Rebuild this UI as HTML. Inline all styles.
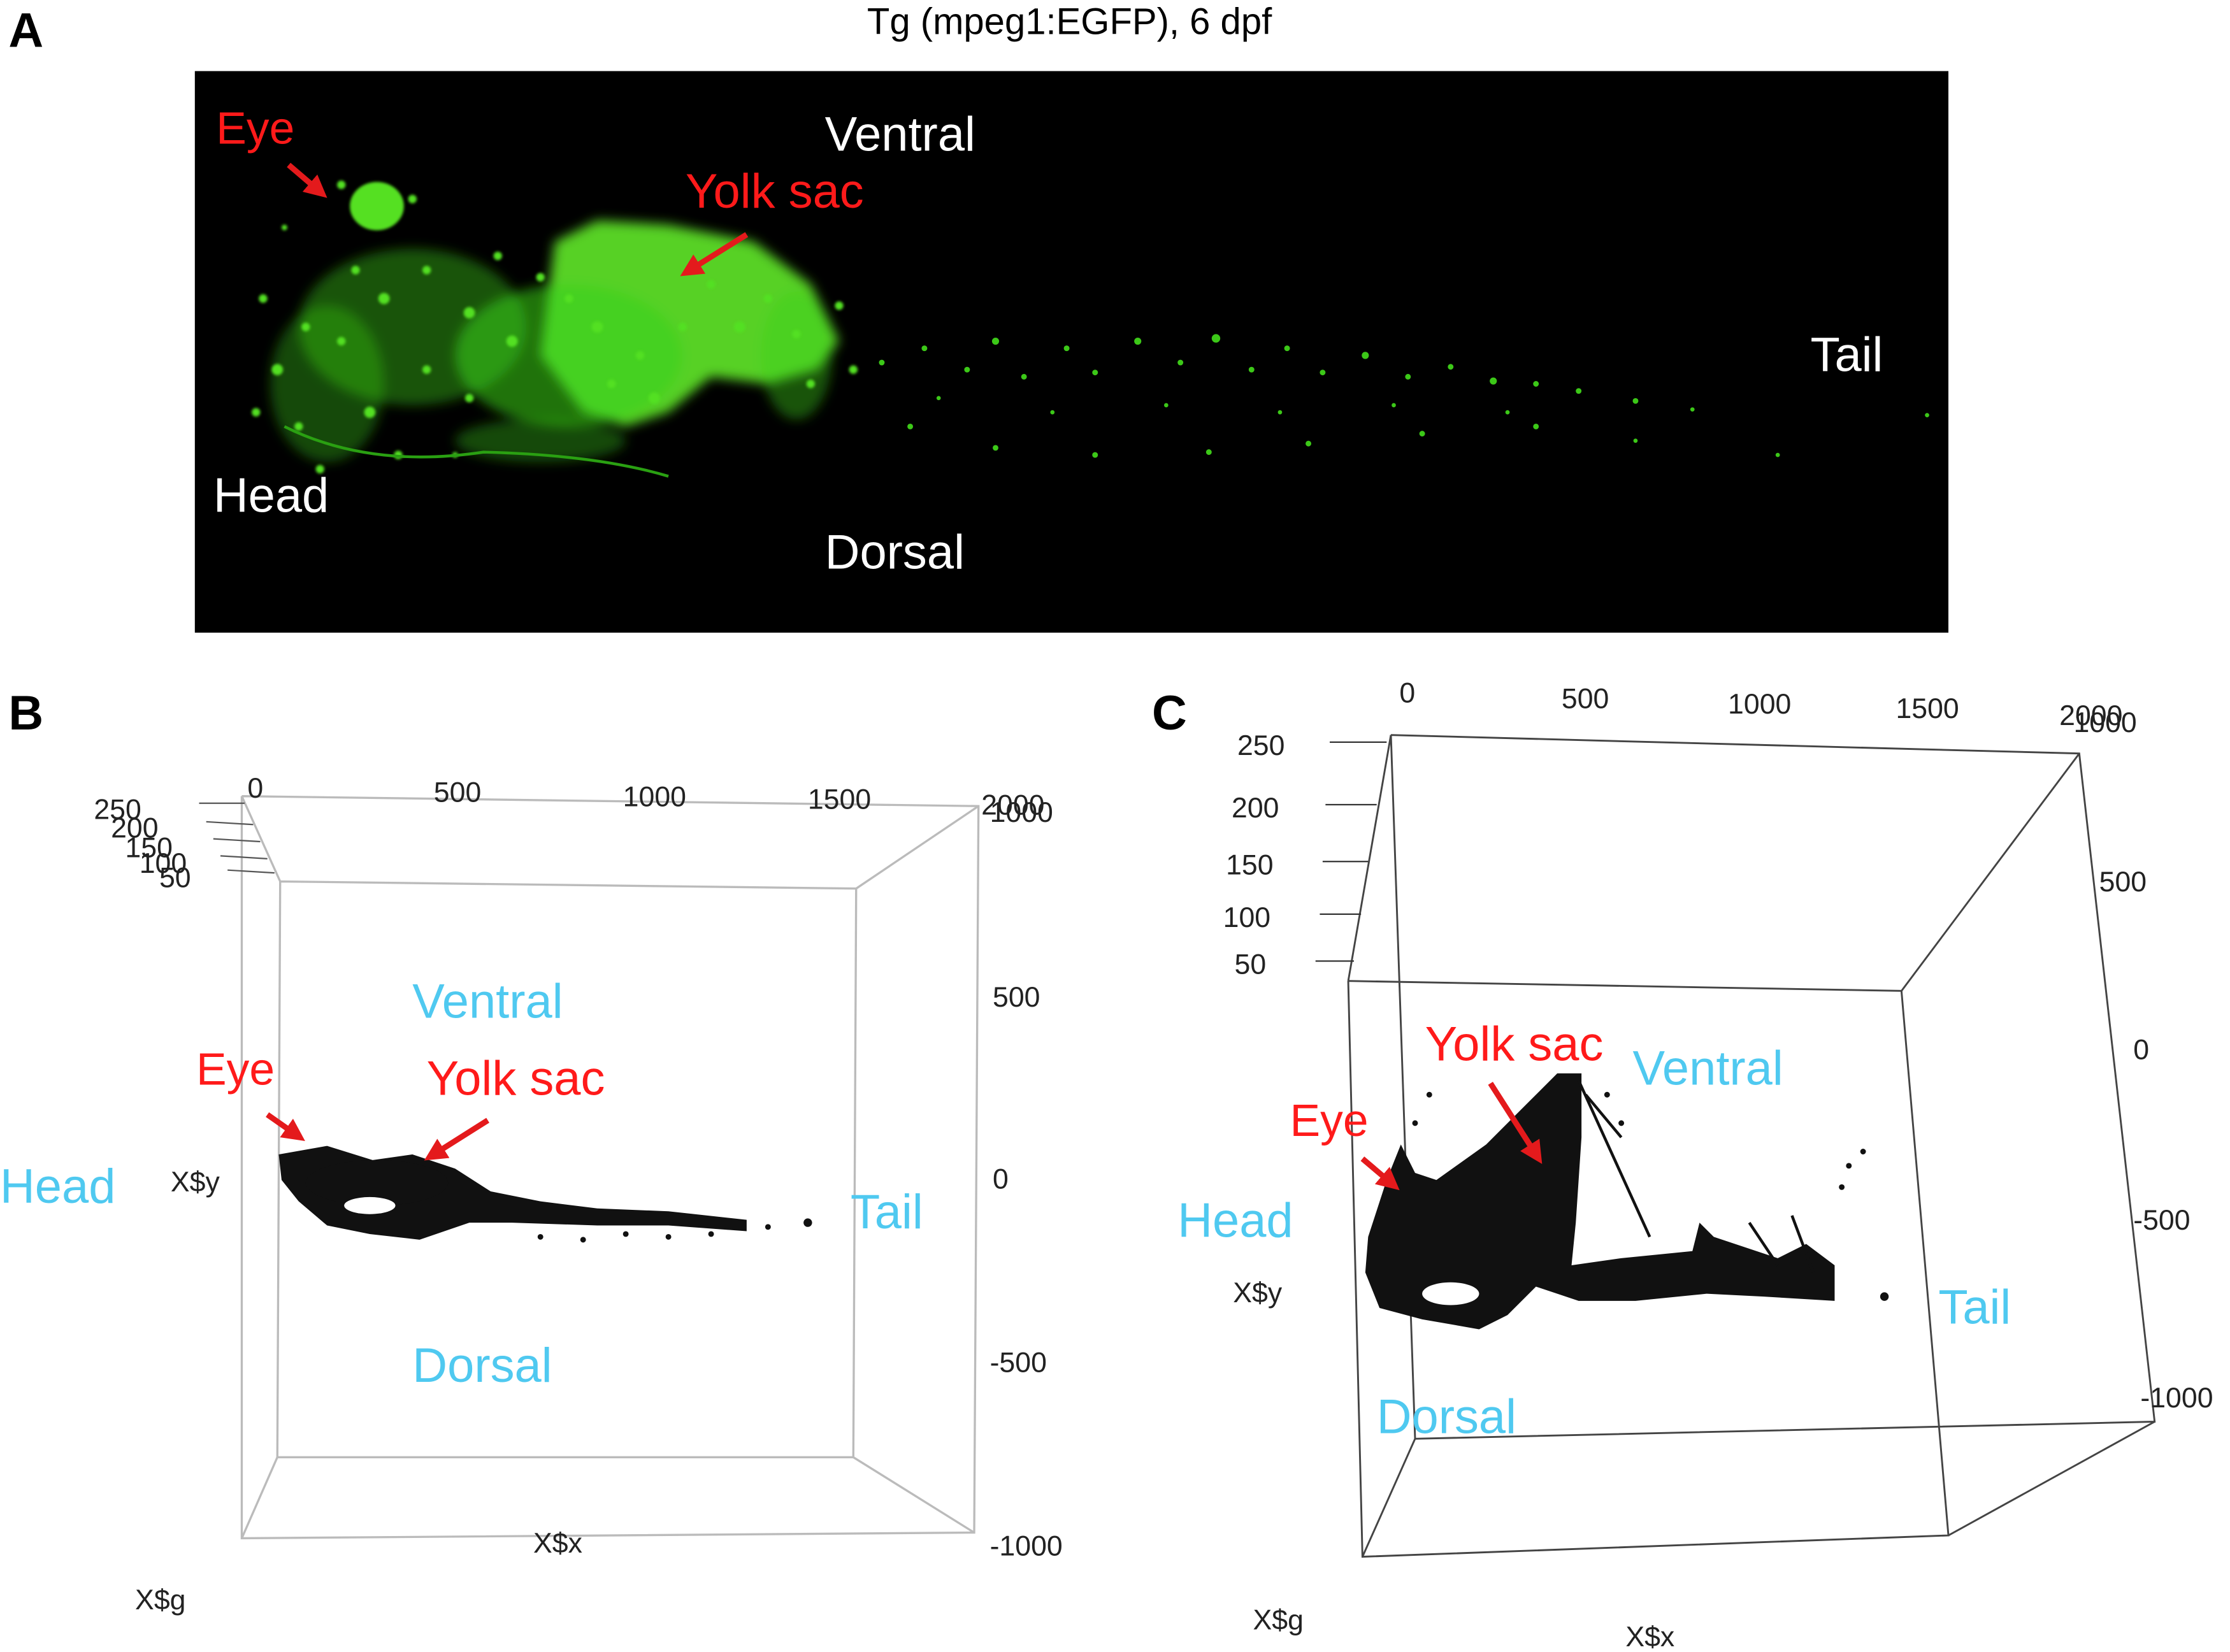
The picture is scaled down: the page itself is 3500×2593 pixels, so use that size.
<!DOCTYPE html>
<html><head><style>
html,body{margin:0;padding:0;background:#fff;}
svg{display:block;}
text{font-family:"Liberation Sans",sans-serif;}
</style></head><body>
<svg width="3500" height="2593" viewBox="0 0 1568 1162" preserveAspectRatio="none" xmlns="http://www.w3.org/2000/svg">
<defs>
<filter id="bl" x="-20%" y="-20%" width="140%" height="140%"><feGaussianBlur stdDeviation="4"/></filter>
<filter id="bl2"><feGaussianBlur stdDeviation="1"/></filter>
<marker id="ah" markerWidth="4" markerHeight="4" refX="2" refY="2" orient="auto"><path d="M0,0 L4,2 L0,4 z" fill="#e41a1c"/></marker>
</defs>
<rect width="1568" height="1162" fill="#fff"/>
<!-- Panel A -->
<text x="6" y="33" font-size="34" font-weight="bold">A</text>
<text x="752" y="24" font-size="26" text-anchor="middle">Tg (mpeg1:EGFP), 6 dpf</text>
<rect x="137" y="50" width="1233" height="395" fill="#000"/>
<g filter="url(#bl)" fill="#3bd11a">
<path d="M390,170 L420,155 L470,158 L530,170 L570,200 L590,240 L575,260 L540,270 L500,265 L470,290 L440,300 L410,290 L380,250 Z" fill="#5fe82a" opacity="0.9"/>
<ellipse cx="400" cy="250" rx="80" ry="50" opacity="0.55"/>
<ellipse cx="290" cy="230" rx="80" ry="55" opacity="0.4"/>
<ellipse cx="230" cy="270" rx="40" ry="55" opacity="0.35"/>
<ellipse cx="380" cy="310" rx="60" ry="15" opacity="0.35"/>
<ellipse cx="560" cy="250" rx="25" ry="45" opacity="0.4"/>
</g>
<ellipse cx="265" cy="145" rx="19" ry="17" fill="#55e020" filter="url(#bl2)"/>
<g fill="#52e020" filter="url(#bl2)">
<circle cx="185" cy="210" r="3"/><circle cx="195" cy="260" r="4"/><circle cx="210" cy="300" r="3"/><circle cx="225" cy="330" r="3"/><circle cx="240" cy="130" r="3"/><circle cx="290" cy="140" r="3"/><circle cx="200" cy="160" r="2"/><circle cx="180" cy="290" r="3"/><circle cx="590" cy="215" r="3"/><circle cx="600" cy="260" r="3"/>
<circle cx="250" cy="190" r="3"/><circle cx="270" cy="210" r="4"/><circle cx="300" cy="190" r="3"/><circle cx="330" cy="220" r="4"/><circle cx="350" cy="180" r="3"/><circle cx="240" cy="240" r="3"/><circle cx="260" cy="290" r="4"/><circle cx="300" cy="260" r="3"/><circle cx="330" cy="280" r="3"/><circle cx="360" cy="240" r="4"/><circle cx="420" cy="230" r="4"/><circle cx="450" cy="250" r="3"/><circle cx="480" cy="230" r="3"/><circle cx="520" cy="230" r="4"/><circle cx="540" cy="210" r="3"/><circle cx="560" cy="235" r="3"/><circle cx="460" cy="280" r="4"/><circle cx="400" cy="210" r="3"/><circle cx="500" cy="200" r="3"/><circle cx="430" cy="270" r="3"/><circle cx="280" cy="320" r="3"/><circle cx="320" cy="320" r="2"/><circle cx="215" cy="230" r="3"/><circle cx="570" cy="270" r="3"/><circle cx="380" cy="195" r="3"/>
</g>
<path d="M200,300 Q260,330 340,318 Q420,320 470,335" stroke="#2aa012" stroke-width="2" fill="none"/>
<g fill="#3cc818">
<circle cx="620" cy="255" r="2"/><circle cx="650" cy="245" r="2"/><circle cx="680" cy="260" r="2"/><circle cx="700" cy="240" r="2.5"/><circle cx="720" cy="265" r="2"/><circle cx="750" cy="245" r="2"/><circle cx="770" cy="262" r="2"/><circle cx="800" cy="240" r="2.5"/><circle cx="830" cy="255" r="2"/><circle cx="855" cy="238" r="3"/><circle cx="880" cy="260" r="2"/><circle cx="905" cy="245" r="2"/><circle cx="930" cy="262" r="2"/><circle cx="960" cy="250" r="2.5"/><circle cx="990" cy="265" r="2"/><circle cx="1020" cy="258" r="2"/><circle cx="1050" cy="268" r="2.5"/><circle cx="1080" cy="270" r="2"/><circle cx="1110" cy="275" r="2"/><circle cx="1150" cy="282" r="2"/><circle cx="1190" cy="288" r="1.5"/><circle cx="1355" cy="292" r="1.5"/>
<circle cx="640" cy="300" r="2"/><circle cx="700" cy="315" r="2"/><circle cx="770" cy="320" r="2"/><circle cx="850" cy="318" r="2"/><circle cx="920" cy="312" r="2"/><circle cx="1000" cy="305" r="2"/><circle cx="1080" cy="300" r="2"/><circle cx="1150" cy="310" r="1.5"/><circle cx="1250" cy="320" r="1.5"/>
<circle cx="660" cy="280" r="1.5"/><circle cx="740" cy="290" r="1.5"/><circle cx="820" cy="285" r="1.5"/><circle cx="900" cy="290" r="1.5"/><circle cx="980" cy="285" r="1.5"/><circle cx="1060" cy="290" r="1.5"/>
</g>
<text x="152" y="101" font-size="32" fill="#ff1a1a">Eye</text>
<line x1="203" y1="116" x2="224" y2="134" stroke="#e41a1c" stroke-width="4" marker-end="url(#ah)"/>
<text x="580" y="106" font-size="34" fill="#fff">Ventral</text>
<text x="482" y="146" font-size="34" fill="#ff1a1a">Yolk sac</text>
<line x1="525" y1="165" x2="485" y2="190" stroke="#e41a1c" stroke-width="4" marker-end="url(#ah)"/>
<text x="1273" y="261" font-size="34" fill="#fff">Tail</text>
<text x="150" y="360" font-size="34" fill="#fff">Head</text>
<text x="580" y="400" font-size="34" fill="#fff">Dorsal</text>

<!-- Panel B -->
<text x="6" y="513" font-size="34" font-weight="bold">B</text>
<g stroke="#bbb" stroke-width="1.5" fill="none">
<polyline points="170,560 688,567 685,1078 170,1082 170,560"/>
<polyline points="197,620 602,625 600,1025 195,1025 197,620"/>
<line x1="170" y1="560" x2="197" y2="620"/><line x1="688" y1="567" x2="602" y2="625"/>
<line x1="685" y1="1078" x2="600" y2="1025"/><line x1="170" y1="1082" x2="195" y2="1025"/>
</g>
<g font-size="20" fill="#222">
<text x="174" y="561">0</text><text x="305" y="564">500</text><text x="438" y="567">1000</text><text x="568" y="569">1500</text><text x="690" y="573">2000</text><text x="696" y="578">1000</text>
<text x="698" y="708">500</text><text x="698" y="836">0</text><text x="696" y="965">-500</text><text x="696" y="1094">-1000</text>
<text x="66" y="576">250</text><text x="78" y="589">200</text><text x="88" y="603">150</text><text x="98" y="614">100</text><text x="112" y="624">50</text>
<text x="120" y="838">X$y</text><text x="375" y="1092">X$x</text><text x="95" y="1132">X$g</text>
</g>
<g stroke="#555" stroke-width="1"><line x1="140" y1="565" x2="172" y2="565"/><line x1="145" y1="578" x2="178" y2="580"/><line x1="150" y1="590" x2="183" y2="592"/><line x1="155" y1="602" x2="188" y2="604"/><line x1="160" y1="612" x2="193" y2="614"/></g>
<g fill="#111">
<path d="M196,812 L230,806 L262,816 L290,812 L320,822 L345,838 L380,845 L420,850 L470,852 L525,858 L525,866 L470,862 L420,862 L360,860 L330,860 L295,872 L260,868 L230,862 L210,845 L198,830 Z"/>
<ellipse cx="265" cy="832" rx="50" ry="16"/>
<circle cx="568" cy="860" r="3"/><circle cx="540" cy="863" r="2"/><circle cx="500" cy="868" r="2"/><circle cx="470" cy="870" r="2"/><circle cx="440" cy="868" r="2"/><circle cx="410" cy="872" r="2"/><circle cx="380" cy="870" r="2"/>
</g>
<ellipse cx="260" cy="848" rx="18" ry="6" fill="#fff"/>
<text x="290" y="716" font-size="34" fill="#4fc9f0">Ventral</text>
<text x="290" y="972" font-size="34" fill="#4fc9f0">Dorsal</text>
<text x="0" y="846" font-size="34" fill="#4fc9f0">Head</text>
<text x="598" y="864" font-size="34" fill="#4fc9f0">Tail</text>
<text x="138" y="763" font-size="32" fill="#ff1a1a">Eye</text>
<line x1="188" y1="784" x2="208" y2="798" stroke="#e41a1c" stroke-width="4" marker-end="url(#ah)"/>
<text x="300" y="770" font-size="34" fill="#ff1a1a">Yolk sac</text>
<line x1="343" y1="788" x2="305" y2="812" stroke="#e41a1c" stroke-width="4" marker-end="url(#ah)"/>

<!-- Panel C -->
<text x="810" y="513" font-size="34" font-weight="bold">C</text>
<g stroke="#444" stroke-width="1.3" fill="none">
<polyline points="978,517 1462,530 1515,1000 995,1012 978,517"/>
<polyline points="948,690 1337,697 1370,1080 958,1095 948,690"/>
<line x1="978" y1="517" x2="948" y2="690"/><line x1="1462" y1="530" x2="1337" y2="697"/>
<line x1="995" y1="1012" x2="958" y2="1095"/><line x1="1515" y1="1000" x2="1370" y2="1080"/>
</g>
<g stroke="#333" stroke-width="1"><line x1="935" y1="522" x2="975" y2="522"/><line x1="932" y1="566" x2="968" y2="566"/><line x1="930" y1="606" x2="962" y2="606"/><line x1="928" y1="643" x2="957" y2="643"/><line x1="925" y1="676" x2="952" y2="676"/></g>
<g font-size="20" fill="#222">
<text x="984" y="494">0</text><text x="1098" y="498">500</text><text x="1215" y="502">1000</text><text x="1333" y="505">1500</text><text x="1448" y="510">2000</text><text x="1458" y="515">1000</text>
<text x="870" y="531">250</text><text x="866" y="575">200</text><text x="862" y="615">150</text><text x="860" y="652">100</text><text x="868" y="685">50</text>
<text x="1476" y="627">500</text><text x="1500" y="745">0</text><text x="1500" y="865">-500</text><text x="1505" y="990">-1000</text>
<text x="867" y="916">X$y</text><text x="881" y="1146">X$g</text><text x="1143" y="1158">X$x</text>
</g>
<g fill="#111">
<path d="M962,870 L975,830 L985,805 L995,825 L1010,830 L1045,805 L1075,775 L1095,755 L1112,755 L1112,800 L1108,860 L1105,890 L1140,885 L1190,880 L1195,860 L1205,870 L1250,885 L1270,875 L1290,890 L1290,915 L1240,912 L1200,910 L1150,915 L1110,915 L1080,905 L1060,925 L1040,935 L1000,928 L970,920 L960,895 Z"/>
<g stroke="#111" stroke-width="2"><line x1="1110" y1="760" x2="1160" y2="870"/><line x1="1115" y1="770" x2="1140" y2="800"/><line x1="1230" y1="860" x2="1250" y2="890"/><line x1="1260" y1="855" x2="1275" y2="895"/></g>
<circle cx="1325" cy="912" r="3"/><circle cx="1300" cy="820" r="2"/><circle cx="1295" cy="835" r="2"/><circle cx="1310" cy="810" r="2"/><circle cx="1140" cy="790" r="2"/><circle cx="1130" cy="770" r="2"/>
<circle cx="995" cy="790" r="2"/><circle cx="1005" cy="770" r="2"/>
</g>
<ellipse cx="1020" cy="910" rx="20" ry="8" fill="#fff"/>
<text x="1002" y="746" font-size="34" fill="#ff1a1a">Yolk sac</text>
<line x1="1048" y1="762" x2="1080" y2="812" stroke="#e41a1c" stroke-width="4" marker-end="url(#ah)"/>
<text x="1148" y="763" font-size="34" fill="#4fc9f0">Ventral</text>
<text x="907" y="799" font-size="32" fill="#ff1a1a">Eye</text>
<line x1="958" y1="815" x2="978" y2="832" stroke="#e41a1c" stroke-width="4" marker-end="url(#ah)"/>
<text x="828" y="870" font-size="34" fill="#4fc9f0">Head</text>
<text x="1363" y="931" font-size="34" fill="#4fc9f0">Tail</text>
<text x="968" y="1008" font-size="34" fill="#4fc9f0">Dorsal</text>
</svg>
</body></html>
